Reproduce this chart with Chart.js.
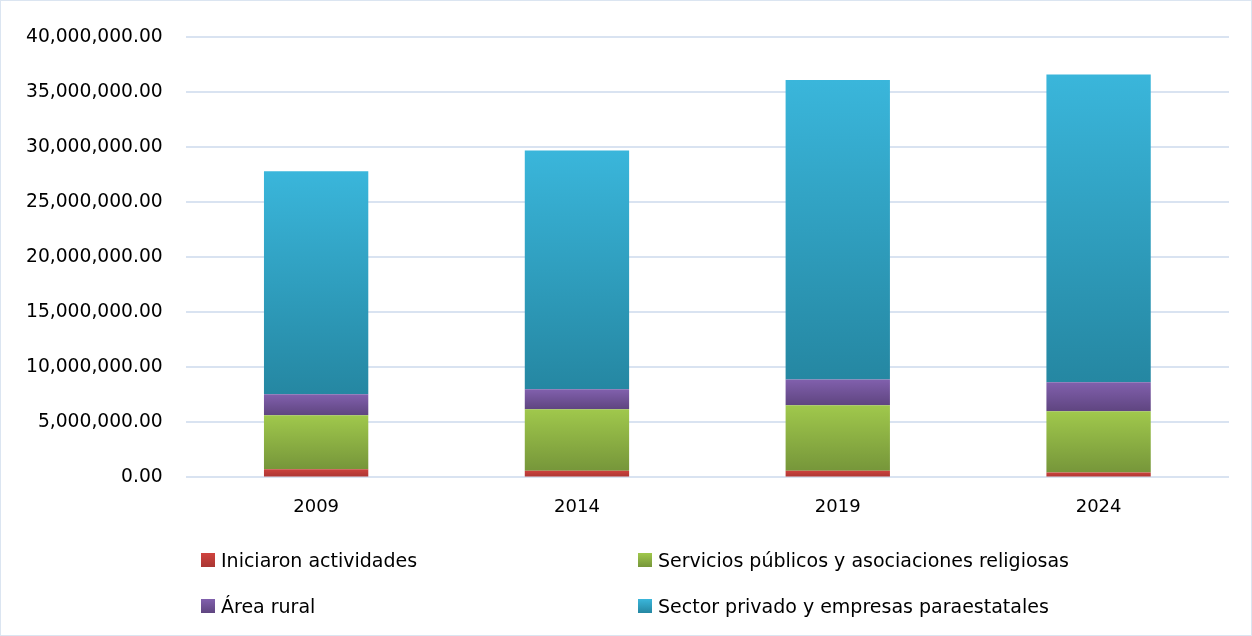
<!DOCTYPE html>
<html><head><meta charset="utf-8">
<script src="https://cdn.jsdelivr.net/npm/chart.js@4"></script>
<style>
html,body{margin:0;padding:0;background:#fff;}
#wrap{position:relative;width:1252px;height:636px;box-sizing:border-box;border:1px solid #dbe5f1;}
#c{position:absolute;left:0;top:0;}
.leg{position:absolute;font-family:"DejaVu Sans",sans-serif;font-size:19px;color:#000;display:flex;align-items:center;white-space:nowrap;}
.sw{width:14px;height:14px;margin-right:6px;}
</style></head>
<body><div id="wrap"><canvas id="c" width="1252" height="636"></canvas>
<div class="leg" style="left:200px;top:548px"><span class="sw" style="background:linear-gradient(#d0433e,#a93633)"></span>Iniciaron actividades</div>
<div class="leg" style="left:637px;top:548px"><span class="sw" style="background:linear-gradient(#a0c84c,#76963a)"></span>Servicios públicos y asociaciones religiosas</div>
<div class="leg" style="left:200px;top:594px"><span class="sw" style="background:linear-gradient(#8160ad,#5f4580)"></span>Área rural</div>
<div class="leg" style="left:637px;top:594px"><span class="sw" style="background:linear-gradient(#3ab6db,#2587a2)"></span>Sector privado y empresas paraestatales</div>
</div>
<script>
const categories = ["2009","2014","2019","2024"];
const iniciaron = [750000, 600000, 600000, 450000];
const servicios = [4900000, 5600000, 5950000, 5550000];
const rural = [1900000, 1800000, 2350000, 2650000];
const privado = [20250000, 21700000, 27200000, 27950000];
const seriesNames = ["Iniciaron actividades","Servicios públicos y asociaciones religiosas","Área rural","Sector privado y empresas paraestatales"];
const seriesData = [iniciaron, servicios, rural, privado];
const colorPairs = [["#cc423d","#a93633"],["#a0c84c","#76963a"],["#8160ad","#5f4580"],["#3ab6db","#2587a2"]];

function grad(dsIndex){
  return function(context){
    const chart = context.chart;
    const ca = chart.chartArea;
    if(!ca || context.type !== 'data') return colorPairs[dsIndex][0];
    const y = chart.scales.y;
    const i = context.dataIndex;
    let base = 0;
    for(let k=0;k<dsIndex;k++) base += seriesData[k][i];
    const top = base + seriesData[dsIndex][i];
    const y0 = y.getPixelForValue(top), y1 = y.getPixelForValue(base);
    if(!isFinite(y0) || !isFinite(y1) || y0===y1) return colorPairs[dsIndex][0];
    const g = chart.ctx.createLinearGradient(0,y0,0,y1);
    g.addColorStop(0,colorPairs[dsIndex][0]);
    g.addColorStop(1,colorPairs[dsIndex][1]);
    return g;
  };
}

new Chart(document.getElementById('c'),{
  type:'bar',
  data:{labels:categories,datasets:seriesData.map((d,k)=>({label:seriesNames[k],data:d,backgroundColor:grad(k),borderWidth:0,categoryPercentage:1,barPercentage:0.4}))},
  options:{
    responsive:false,animation:false,
    layout:{padding:{top:36,right:24,left:2,bottom:108}},
    plugins:{legend:{display:false},tooltip:{enabled:false}},
    scales:{
      x:{stacked:true,grid:{display:false},border:{display:false},
        ticks:{font:{family:"DejaVu Sans",size:18},color:"#000",padding:11}},
      y:{stacked:true,min:0,max:40000000,
        grid:{color:"#d9e3f1",lineWidth:2,drawTicks:false},border:{display:false},
        ticks:{stepSize:5000000,padding:23,font:{family:"DejaVu Sans",size:18.7},color:"#000",
          callback:v=>v.toLocaleString('en-US',{minimumFractionDigits:2,maximumFractionDigits:2})}}
    }
  }
});
</script></body></html>
